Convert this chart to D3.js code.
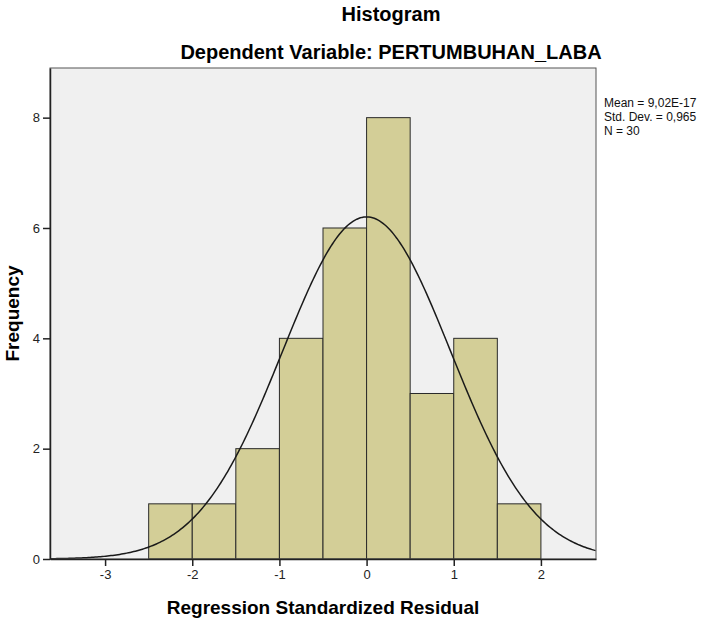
<!DOCTYPE html>
<html>
<head>
<meta charset="utf-8">
<script src="https://cdn.jsdelivr.net/npm/d3@7"></script>
<style>
  body { margin: 0; background: #fff; }
  text { font-family: "Liberation Sans", Arial, sans-serif; }
</style>
</head>
<body>
<div id="chart"></div>
<script>
// histogram bins (lower edge) and counts
var binStarts = [-2.5, -2.0, -1.5, -1.0, -0.5, 0.0, 0.5, 1.0, 1.5];
var binWidth = 0.5;
var counts = [1, 1, 2, 4, 6, 8, 3, 4, 1];
var xTicks = [-3, -2, -1, 0, 1, 2];
var yTicks = [0, 2, 4, 6, 8];
// summary stats shown in the legend
var statMean = 9.02e-17;
var statSd = 0.965;
var statN = 30;
var statLabels = ["Mean = 9,02E-17", "Std. Dev. = 0,965", "N = 30"];

var W = 715, H = 619;
var margin = {top: 68, right: 119, bottom: 60, left: 50},
    width = W - margin.left - margin.right,
    height = H - margin.top - margin.bottom;

var svg = d3.select("#chart")
  .append("svg")
  .attr("width", W)
  .attr("height", H);

var g = svg.append("g")
  .attr("transform", "translate(" + margin.left + "," + margin.top + ")");

var x = d3.scaleLinear().domain([-3.632, 2.632]).range([0, width]);
var y = d3.scaleLinear().domain([0, 8.9]).range([height, 0]);

// plot background
g.append("rect")
  .attr("width", width)
  .attr("height", height)
  .attr("fill", "#f0f0f0");

// bars
g.selectAll(".bar")
  .data(counts)
  .enter().append("rect")
  .attr("x", function(d, i) { return x(binStarts[i]); })
  .attr("y", function(d) { return y(d); })
  .attr("width", function(d, i) { return x(binStarts[i] + binWidth) - x(binStarts[i]); })
  .attr("height", function(d) { return height - y(d); })
  .attr("fill", "#d3ce97")
  .attr("stroke", "#2a2a2a")
  .attr("stroke-width", 1);

// normal curve from the stats
var curvePts = d3.range(-3.632, 2.64, 0.02);
var scaleK = statN * binWidth / (statSd * Math.sqrt(2 * Math.PI));
g.append("path")
  .datum(curvePts)
  .attr("fill", "none")
  .attr("stroke", "#1a1a1a")
  .attr("stroke-width", 1.5)
  .attr("d", d3.line()
    .x(function(d) { return x(d); })
    .y(function(d) {
      var z = (d - statMean) / statSd;
      return y(scaleK * Math.exp(-0.5 * z * z));
    })
  );

// frame
g.append("rect")
  .attr("width", width)
  .attr("height", height)
  .attr("fill", "none")
  .attr("stroke", "#555")
  .attr("stroke-width", 1);

// axes
var fmt = function(d) { return String(d); };
var xAxis = g.append("g")
  .attr("transform", "translate(0," + height + ")")
  .call(d3.axisBottom(x).tickValues(xTicks).tickSize(7).tickSizeOuter(0).tickPadding(4).tickFormat(fmt));
var yAxis = g.append("g")
  .call(d3.axisLeft(y).tickValues(yTicks).tickSize(7).tickSizeOuter(0).tickPadding(3).tickFormat(fmt));

[xAxis, yAxis].forEach(function(a) {
  a.select(".domain").attr("stroke", "#222").attr("stroke-width", 1.5);
  a.selectAll(".tick line").attr("stroke", "#222").attr("stroke-width", 1.5);
  a.selectAll(".tick text")
    .attr("fill", "#222")
    .style("font-size", "13px")
    .style("font-family", "Liberation Sans, Arial, sans-serif");
});

// titles
svg.append("text")
  .attr("x", 391).attr("y", 21)
  .attr("text-anchor", "middle")
  .style("font-size", "20px").style("font-weight", "bold")
  .text("Histogram");
svg.append("text")
  .attr("x", 391).attr("y", 59)
  .attr("text-anchor", "middle")
  .style("font-size", "20px").style("font-weight", "bold")
  .text("Dependent Variable: PERTUMBUHAN_LABA");

svg.append("text")
  .attr("x", margin.left + width / 2).attr("y", 614)
  .attr("text-anchor", "middle")
  .style("font-size", "19px").style("font-weight", "bold")
  .text("Regression Standardized Residual");

svg.append("text")
  .attr("transform", "translate(19," + (margin.top + height / 2) + ") rotate(-90)")
  .attr("text-anchor", "middle")
  .style("font-size", "19px").style("font-weight", "bold")
  .text("Frequency");

// legend stats
svg.append("g")
  .selectAll("text")
  .data(statLabels)
  .enter().append("text")
  .attr("x", 604)
  .attr("y", function(d, i) { return 107 + i * 14; })
  .style("font-size", "12px")
  .attr("fill", "#111")
  .text(function(d) { return d; });
</script>
</body>
</html>
